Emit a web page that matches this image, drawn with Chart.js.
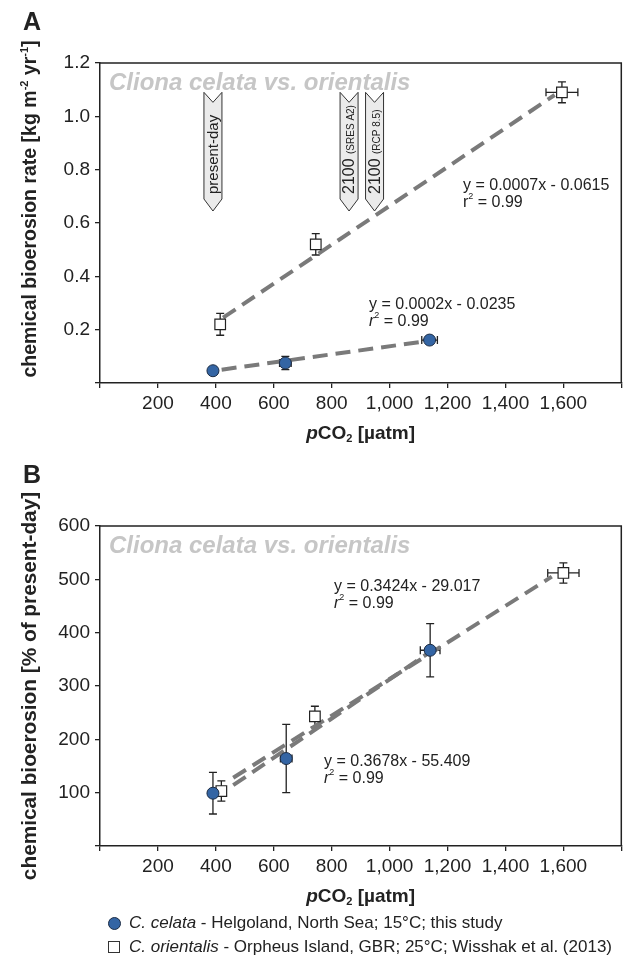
<!DOCTYPE html>
<html>
<head>
<meta charset="utf-8">
<script src="https://cdn.jsdelivr.net/npm/chart.js@4.4.1/dist/chart.umd.min.js"></script>
<style>
  body { margin: 0; background: #fff; width: 630px; height: 968px; position: relative; overflow: hidden;
         font-family: "Liberation Sans", Arial, sans-serif; color: #222; }
  .panel { position: absolute; left: 0; width: 630px; height: 464px; }
  .row { position: absolute; left: 0; height: 20px; line-height: 20px; font-size: 17px; white-space: nowrap; }
  .row .txt { position: absolute; left: 129px; top: 0; }
  .dot { position: absolute; left: 108px; top: 4px; width: 11px; height: 11px; border-radius: 50%;
         background: #3465a4; border: 1px solid #1c2c44; }
  .sq { position: absolute; left: 108px; top: 4px; width: 10px; height: 10px; background: #fff; border: 1px solid #333; }
</style>
</head>
<body>
<div class="panel" style="top:0"><canvas id="chartA" width="630" height="464"></canvas></div>
<div class="panel" style="top:463px"><canvas id="chartB" width="630" height="464"></canvas></div>
<div class="row" style="top:913px"><span class="dot"></span><span class="txt"><i>C. celata</i> - Helgoland, North Sea; 15°C; this study</span></div>
<div class="row" style="top:937px"><span class="sq"></span><span class="txt"><i>C. orientalis</i> - Orpheus Island, GBR; 25°C; Wisshak et al. (2013)</span></div>
<script>
// x axis (pCO2, µatm)
const xTickLabels = [200, 400, 600, 800, 1000, 1200, 1400, 1600];

// Panel A: chemical bioerosion rate [kg m-2 yr-1]
const aCelataX = [390, 640, 1138];
const aCelataY = [0.046, 0.075, 0.161];
const aCelataXErr = [12, 20, 27];
const aCelataYErr = [0.006, 0.025, 0.01];
const aOrientX = [415, 745, 1595];
const aOrientY = [0.22, 0.52, 1.09];
const aOrientXErr = [10, 14, 55];
const aOrientYErr = [0.041, 0.04, 0.039];
const aCelataFitX = [420, 1120];
const aCelataFitY = [0.05, 0.156];
const aOrientFitX = [425, 1570];
const aOrientFitY = [0.245, 1.08];
const aYTickLabels = [0.2, 0.4, 0.6, 0.8, 1.0, 1.2];

// Panel B: chemical bioerosion [% of present-day]
const bCelataX = [390, 643, 1140];
const bCelataY = [99, 164, 367];
const bCelataXErr = [12, 20, 34];
const bCelataYErr = [39, 64, 50];
const bOrientX = [419, 742, 1600];
const bOrientY = [103, 243, 512];
const bOrientXErr = [10, 15, 54];
const bOrientYErr = [19, 19, 19];
const bCelataFitX = [460, 1140];
const bCelataFitY = [114, 364];
const bOrientFitX = [460, 1560];
const bOrientFitY = [128, 505];
const bYTickLabels = [100, 200, 300, 400, 500, 600];

// scenario markers (pCO2)
const scenarioX = [390, 860, 948];
const scenarioMain = ['present-day', '2100', '2100'];
const scenarioSub = ['', '(SRES A2)', '(RCP 8.5)'];

const FONT = '"Liberation Sans", Arial, sans-serif';
const f = (style, size) => (style ? style + ' ' : '') + size + 'px ' + FONT;

function pts(xs, ys) { return xs.map((x, i) => ({ x: x, y: ys[i] })); }

function drawRuns(ctx, runs, x, y, center) {
  let w = 0;
  runs.forEach(r => { ctx.font = r.font; w += ctx.measureText(r.t).width; });
  let cx = center ? x - w / 2 : x;
  runs.forEach(r => {
    ctx.font = r.font;
    ctx.fillText(r.t, cx, y + (r.dy || 0));
    cx += ctx.measureText(r.t).width;
  });
}

function eqRuns(eq, italicR) {
  return [
    [{ t: eq, font: f('', 16) }],
    [{ t: 'r', font: f(italicR ? 'italic' : '', 16) }, { t: '2', font: f('', 9), dy: -6 }, { t: ' = 0.99', font: f('', 16) }]
  ];
}

function decor(p) {
  return {
    id: 'decor' + p.letter,
    beforeDatasetsDraw(chart) {
      const ctx = chart.ctx, area = chart.chartArea;
      const xs = chart.scales.x, ys = chart.scales.y;
      ctx.save();
      // watermark
      ctx.fillStyle = '#c6c6c6';
      ctx.font = f('italic bold', 24);
      ctx.textBaseline = 'middle';
      ctx.textAlign = 'left';
      ctx.fillText('Cliona celata vs. orientalis', area.left + 9, area.top + 20);
      // scenario arrows
      if (p.arrows) {
        scenarioX.forEach((v, i) => {
          const cx = xs.getPixelForValue(v);
          const top = ys.getPixelForValue(1.09), tip = ys.getPixelForValue(0.645);
          ctx.beginPath();
          ctx.moveTo(cx - 9, top);
          ctx.lineTo(cx, top + 10);
          ctx.lineTo(cx + 9, top);
          ctx.lineTo(cx + 9, tip - 12);
          ctx.lineTo(cx, tip);
          ctx.lineTo(cx - 9, tip - 12);
          ctx.closePath();
          ctx.fillStyle = '#ebebeb';
          ctx.fill();
          ctx.strokeStyle = '#333';
          ctx.lineWidth = 1;
          ctx.stroke();
          ctx.save();
          ctx.translate(cx + 5, 194);
          ctx.rotate(-Math.PI / 2);
          ctx.fillStyle = '#222';
          ctx.textBaseline = 'alphabetic';
          const runs = scenarioSub[i]
            ? [{ t: scenarioMain[i] + ' ', font: f('', 16) }, { t: scenarioSub[i], font: f('', 10) }]
            : [{ t: scenarioMain[i], font: f('', 15) }];
          drawRuns(ctx, runs, 0, 0, false);
          ctx.restore();
        });
      }
      // error bars
      ctx.strokeStyle = '#222';
      ctx.lineWidth = 1.3;
      chart.data.datasets.forEach((ds, di) => {
        if (!ds.errY) return;
        const meta = chart.getDatasetMeta(di);
        meta.data.forEach((el, i) => {
          const d = ds.data[i];
          const y1 = ys.getPixelForValue(d.y + ds.errY[i]), y2 = ys.getPixelForValue(d.y - ds.errY[i]);
          const x1 = xs.getPixelForValue(d.x - ds.errX[i]), x2 = xs.getPixelForValue(d.x + ds.errX[i]);
          ctx.beginPath();
          ctx.moveTo(el.x, y1); ctx.lineTo(el.x, y2);
          ctx.moveTo(el.x - 4, y1); ctx.lineTo(el.x + 4, y1);
          ctx.moveTo(el.x - 4, y2); ctx.lineTo(el.x + 4, y2);
          ctx.moveTo(x1, el.y); ctx.lineTo(x2, el.y);
          ctx.moveTo(x1, el.y - 4); ctx.lineTo(x1, el.y + 4);
          ctx.moveTo(x2, el.y - 4); ctx.lineTo(x2, el.y + 4);
          ctx.stroke();
        });
      });
      ctx.restore();
    },
    afterDraw(chart) {
      const ctx = chart.ctx, area = chart.chartArea;
      ctx.save();
      // top and right frame
      ctx.strokeStyle = '#222';
      ctx.lineWidth = 1.5;
      ctx.beginPath();
      ctx.moveTo(area.left, area.top);
      ctx.lineTo(area.right, area.top);
      ctx.lineTo(area.right, area.bottom);
      ctx.stroke();
      ctx.fillStyle = '#222';
      // panel letter
      ctx.font = f('bold', 25);
      ctx.textAlign = 'center';
      ctx.textBaseline = 'middle';
      ctx.fillText(p.letter, 32, p.letterY);
      // equations
      ctx.textAlign = 'left';
      p.equations.forEach(e => {
        const lines = eqRuns(e.text, e.italicR);
        drawRuns(ctx, lines[0], e.x, e.y, false);
        drawRuns(ctx, lines[1], e.x, e.y + 17, false);
      });
      // x title
      ctx.textBaseline = 'middle';
      drawRuns(ctx, [
        { t: 'p', font: f('italic bold', 19) },
        { t: 'CO', font: f('bold', 19) },
        { t: '2', font: f('bold', 11), dy: 5 },
        { t: ' [µatm]', font: f('bold', 19) }
      ], (area.left + area.right) / 2, area.bottom + 51, true);
      // y title
      ctx.save();
      ctx.translate(36, p.yTitleY);
      ctx.rotate(-Math.PI / 2);
      ctx.textBaseline = 'alphabetic';
      drawRuns(ctx, p.yTitle, 0, 0, true);
      ctx.restore();
      ctx.restore();
    }
  };
}

function build(id, p) {
  const tickGrid = { display: true, drawOnChartArea: false, drawTicks: true, tickLength: 5, color: '#222', lineWidth: 1.3 };
  new Chart(document.getElementById(id).getContext('2d'), {
    type: 'scatter',
    data: {
      datasets: [
        { data: pts(p.celataX, p.celataY), errX: p.celataXErr, errY: p.celataYErr, order: 0,
          pointStyle: 'circle', pointRadius: 6, backgroundColor: '#3465a4', borderColor: '#1c2c44', borderWidth: 1 },
        { data: pts(p.orientX, p.orientY), errX: p.orientXErr, errY: p.orientYErr, order: 0,
          pointStyle: 'rect', pointRadius: 7.5, backgroundColor: '#fff', borderColor: '#222', borderWidth: 1.2 },
        { type: 'line', data: pts(p.celataFitX, p.celataFitY), order: 2, pointRadius: 0,
          borderColor: '#7a7a7a', borderWidth: 4, borderDash: [15, 8], fill: false },
        { type: 'line', data: pts(p.orientFitX, p.orientFitY), order: 2, pointRadius: 0,
          borderColor: '#7a7a7a', borderWidth: 4, borderDash: [15, 8], fill: false }
      ]
    },
    options: {
      responsive: false,
      animation: false,
      layout: { padding: { top: 63, right: 3, bottom: 51, left: 0 } },
      plugins: { legend: { display: false }, tooltip: { enabled: false } },
      scales: {
        x: {
          type: 'linear', min: 0, max: 1800,
          afterFit: s => { s.height = 30; },
          grid: tickGrid,
          border: { color: '#222', width: 1.5 },
          ticks: {
            stepSize: 200, autoSkip: false, maxRotation: 0, padding: 4, color: '#222',
            font: { family: FONT, size: 19 },
            callback: v => xTickLabels.includes(v) ? v.toLocaleString('en-US') : ''
          }
        },
        y: {
          type: 'linear', min: 0, max: p.yMax,
          afterFit: s => { s.width = 100; },
          grid: tickGrid,
          border: { color: '#222', width: 1.5 },
          ticks: {
            stepSize: p.yStep, padding: 5, color: '#222',
            font: { family: FONT, size: 19 },
            callback: v => {
              const hit = p.yLabels.find(t => Math.abs(t - v) < 1e-6);
              return hit === undefined ? '' : (p.yDecimals ? hit.toFixed(p.yDecimals) : String(hit));
            }
          }
        }
      }
    },
    plugins: [decor(p)]
  });
}

build('chartA', {
  letter: 'A', letterY: 23, arrows: true,
  celataX: aCelataX, celataY: aCelataY, celataXErr: aCelataXErr, celataYErr: aCelataYErr,
  orientX: aOrientX, orientY: aOrientY, orientXErr: aOrientXErr, orientYErr: aOrientYErr,
  celataFitX: aCelataFitX, celataFitY: aCelataFitY, orientFitX: aOrientFitX, orientFitY: aOrientFitY,
  yMax: 1.2, yStep: 0.2, yLabels: aYTickLabels, yDecimals: 1,
  equations: [
    { text: 'y = 0.0007x - 0.0615', x: 463, y: 186, italicR: false },
    { text: 'y = 0.0002x - 0.0235', x: 369, y: 305, italicR: true }
  ],
  yTitleY: 209,
  yTitle: [
    { t: 'chemical bioerosion rate [kg m', font: f('bold', 19.5) },
    { t: '-2', font: f('bold', 11), dy: -8 },
    { t: ' yr', font: f('bold', 19.5) },
    { t: '-1', font: f('bold', 11), dy: -8 },
    { t: ']', font: f('bold', 19.5) }
  ]
});

build('chartB', {
  letter: 'B', letterY: 13, arrows: false,
  celataX: bCelataX, celataY: bCelataY, celataXErr: bCelataXErr, celataYErr: bCelataYErr,
  orientX: bOrientX, orientY: bOrientY, orientXErr: bOrientXErr, orientYErr: bOrientYErr,
  celataFitX: bCelataFitX, celataFitY: bCelataFitY, orientFitX: bOrientFitX, orientFitY: bOrientFitY,
  yMax: 600, yStep: 100, yLabels: bYTickLabels, yDecimals: 0,
  equations: [
    { text: 'y = 0.3424x - 29.017', x: 334, y: 124, italicR: true },
    { text: 'y = 0.3678x - 55.409', x: 324, y: 299, italicR: true }
  ],
  yTitleY: 223,
  yTitle: [{ t: 'chemical bioerosion [% of present-day]', font: f('bold', 20.8) }]
});
</script>
</body>
</html>
